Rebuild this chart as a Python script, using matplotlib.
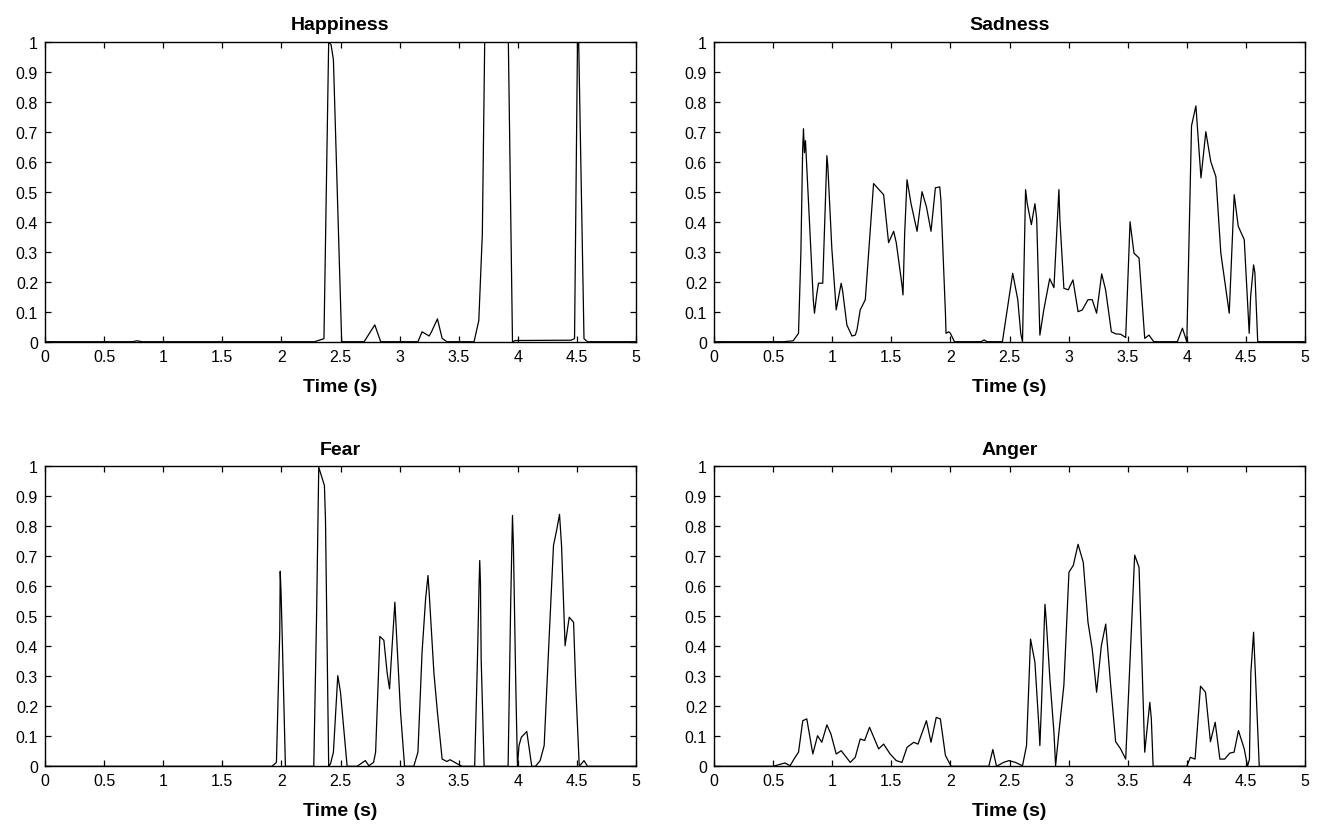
import matplotlib
matplotlib.use("Agg")
import matplotlib.pyplot as plt

plt.rcParams['font.family'] = ['Liberation Sans', 'DejaVu Sans']

titles = ["Happiness", "Sadness", "Fear", "Anger"]
x_ticks = [0, 0.5, 1, 1.5, 2, 2.5, 3, 3.5, 4, 4.5, 5]
x_tick_labels = ["0", "0.5", "1", "1.5", "2", "2.5", "3", "3.5", "4", "4.5", "5"]
y_ticks = [0, 0.1, 0.2, 0.3, 0.4, 0.5, 0.6, 0.7, 0.8, 0.9, 1]
y_tick_labels = ["0", "0.1", "0.2", "0.3", "0.4", "0.5", "0.6", "0.7", "0.8", "0.9", "1"]

happiness_t = [0, 0.74, 0.78, 0.82, 2.28, 2.36, 2.40, 2.42, 2.44, 2.51, 2.70, 2.79, 2.84,
               3.155, 3.19, 3.25, 3.27, 3.32, 3.36, 3.40, 3.63, 3.67, 3.70, 3.72, 3.82,
               3.92, 3.955, 3.98, 4.45, 4.48, 4.505, 4.515, 4.56, 4.59, 5]
happiness_v = [0, 0, 0.003, 0, 0, 0.01, 1.0, 0.99, 0.94, 0, 0, 0.056, 0,
               0, 0.033, 0.019, 0.033, 0.076, 0.011, 0, 0, 0.07, 0.36, 1.0, 1.0,
               1.0, 0, 0.004, 0.005, 0.01, 1.0, 1.0, 0.01, 0, 0]

sadness_t = [0, 0.59, 0.67, 0.715, 0.735, 0.75, 0.757, 0.765, 0.774, 0.84, 0.85, 0.87, 0.884,
             0.92, 0.955, 0.963, 0.997, 1.034, 1.076, 1.088, 1.124, 1.167, 1.195, 1.21,
             1.237, 1.28, 1.35, 1.435, 1.477, 1.52, 1.542, 1.59, 1.599, 1.613, 1.633,
             1.667, 1.718, 1.76, 1.797, 1.836, 1.873, 1.91, 1.92, 1.958, 1.963, 1.986,
             2.0, 2.034, 2.26, 2.285, 2.31, 2.44, 2.527, 2.57, 2.595, 2.61, 2.636, 2.65,
             2.685, 2.715, 2.73, 2.757, 2.79, 2.84, 2.876, 2.918, 2.926, 2.96, 2.997,
             3.037, 3.08, 3.116, 3.164, 3.2, 3.237, 3.28, 3.313, 3.362, 3.4, 3.44, 3.483,
             3.52, 3.553, 3.596, 3.644, 3.68, 3.72, 3.92, 3.963, 4.0, 4.04, 4.077, 4.12,
             4.161, 4.203, 4.246, 4.288, 4.359, 4.401, 4.435, 4.486, 4.528, 4.54, 4.565,
             4.576, 4.6, 5]
sadness_v = [0, 0, 0.003, 0.028, 0.295, 0.64, 0.71, 0.63, 0.67, 0.14, 0.095, 0.16, 0.195,
             0.195, 0.62, 0.585, 0.31, 0.106, 0.195, 0.17, 0.056, 0.019, 0.022, 0.04,
             0.106, 0.14, 0.527, 0.49, 0.33, 0.368, 0.33, 0.19, 0.156, 0.36, 0.54,
             0.46, 0.368, 0.5, 0.45, 0.368, 0.513, 0.516, 0.47, 0.095, 0.028, 0.033,
             0.028, 0, 0, 0.006, 0, 0, 0.228, 0.14, 0.028, 0, 0.507, 0.46,
             0.39, 0.46, 0.41, 0.022, 0.106, 0.21, 0.18, 0.507, 0.41, 0.178, 0.173,
             0.206, 0.1, 0.106, 0.14, 0.14, 0.095, 0.226, 0.173, 0.033, 0.026, 0.025, 0.014,
             0.40, 0.295, 0.279, 0.011, 0.022, 0, 0, 0.045, 0, 0.72, 0.786, 0.546,
             0.70, 0.60, 0.55, 0.295, 0.095, 0.49, 0.385, 0.34, 0.028, 0.15, 0.256,
             0.23, 0, 0]

fear_t = [0, 1.92, 1.958, 1.986, 1.99, 1.997, 2.006, 2.034, 2.274, 2.297, 2.316, 2.345,
          2.364, 2.373, 2.40, 2.415, 2.44, 2.477, 2.50, 2.556, 2.64, 2.71, 2.74, 2.78,
          2.797, 2.833, 2.867, 2.895, 2.915, 2.93, 2.96, 2.966, 3.008, 3.042, 3.12,
          3.155, 3.19, 3.22, 3.24, 3.25, 3.29, 3.32, 3.36, 3.40, 3.427, 3.489, 3.53,
          3.635, 3.658, 3.672, 3.678, 3.684, 3.69, 3.715, 3.918, 3.94, 3.955, 3.963,
          3.983, 3.997, 4.01, 4.03, 4.076, 4.118, 4.15, 4.189, 4.223, 4.266, 4.302,
          4.33, 4.353, 4.37, 4.40, 4.435, 4.472, 4.49, 4.52, 4.548, 4.56, 4.59, 5]
fear_v = [0, 0, 0.013, 0.447, 0.65, 0.58, 0.447, 0, 0, 0.49, 0.997, 0.96,
          0.936, 0.82, 0, 0.008, 0.047, 0.302, 0.247, 0, 0, 0.019, 0.002, 0.013,
          0.047, 0.433, 0.42, 0.31, 0.258, 0.358, 0.547, 0.5, 0.18, 0, 0,
          0.047, 0.38, 0.558, 0.636, 0.58, 0.313, 0.18, 0.024, 0.016, 0.022, 0.008, 0,
          0, 0.347, 0.6, 0.686, 0.61, 0.358, 0, 0, 0.547, 0.836, 0.735,
          0.27, 0, 0.069, 0.097, 0.116, 0, 0, 0.019, 0.069, 0.436, 0.736,
          0.79, 0.84, 0.736, 0.402, 0.497, 0.48, 0.27, 0, 0.013, 0.019, 0, 0]

anger_t = [0, 0.50, 0.60, 0.644, 0.686, 0.715, 0.751, 0.785, 0.836, 0.876, 0.912, 0.955,
           0.989, 1.034, 1.076, 1.153, 1.195, 1.237, 1.274, 1.316, 1.393, 1.435, 1.49,
           1.542, 1.59, 1.633, 1.69, 1.726, 1.797, 1.836, 1.88, 1.915, 1.958, 2.006,
           2.325, 2.359, 2.39, 2.45, 2.495, 2.55, 2.61, 2.644, 2.678, 2.715, 2.75, 2.757,
           2.77, 2.80, 2.81, 2.842, 2.876, 2.89, 2.918, 2.96, 3.003, 3.04, 3.08, 3.124,
           3.164, 3.2, 3.237, 3.277, 3.314, 3.356, 3.398, 3.44, 3.483, 3.559, 3.596,
           3.644, 3.687, 3.70, 3.715, 3.96, 4.0, 4.03, 4.07, 4.116, 4.158, 4.2, 4.24,
           4.28, 4.32, 4.364, 4.4, 4.437, 4.486, 4.514, 4.53, 4.542, 4.565, 4.57, 4.58,
           4.613, 5]
anger_v = [0, 0, 0.011, 0.002, 0.03, 0.047, 0.152, 0.158, 0.041, 0.102, 0.08, 0.138,
           0.108, 0.041, 0.052, 0.013, 0.03, 0.091, 0.086, 0.13, 0.058, 0.074, 0.041,
           0.019, 0.013, 0.063, 0.08, 0.074, 0.152, 0.08, 0.163, 0.158, 0.036, 0,
           0, 0.056, 0, 0.013, 0.019, 0.013, 0.002, 0.069, 0.424, 0.347, 0.124, 0.069,
           0.2, 0.54, 0.49, 0.29, 0.113, 0.002, 0.113, 0.27, 0.647, 0.67, 0.74, 0.68,
           0.48, 0.39, 0.247, 0.402, 0.474, 0.27, 0.082, 0.058, 0.024, 0.704, 0.663,
           0.047, 0.213, 0.158, 0, 0, 0, 0.03, 0.024, 0.267, 0.247, 0.082, 0.147,
           0.024, 0.024, 0.044, 0.047, 0.119, 0.058, 0, 0.024, 0.313, 0.447, 0.4, 0.31,
           0, 0]

series = [(happiness_t, happiness_v), (sadness_t, sadness_v),
          (fear_t, fear_v), (anger_t, anger_v)]

fig = plt.figure(figsize=(13.2, 8.29), dpi=100)
W, H = 1320.0, 829.0
lefts = [45, 714, 45, 714]
tops = [42.7, 42.7, 467.3, 467.3]
aw, ah = 591.0, 300.0

for i, (title, (t, v)) in enumerate(zip(titles, series)):
    ax = fig.add_axes([lefts[i] / W, 1 - (tops[i] + ah) / H, aw / W, ah / H])
    ax.plot(t, v, color='black', lw=0.9)
    ax.set_xlim(0, 5)
    ax.set_ylim(0, 1)
    ax.set_xticks(x_ticks)
    ax.set_xticklabels(x_tick_labels)
    ax.set_yticks(y_ticks)
    ax.set_yticklabels(y_tick_labels)
    ax.tick_params(direction='in', top=True, right=True, length=4, width=0.9,
                   labelsize=11.5, pad=5, colors='black')
    for s in ax.spines.values():
        s.set_linewidth(1.0)
    ax.set_title(title, fontsize=14, fontweight='bold', pad=9)
    ax.set_xlabel("Time (s)", fontsize=14, fontweight='bold', labelpad=10)

fig.savefig("out.png", dpi=100)
